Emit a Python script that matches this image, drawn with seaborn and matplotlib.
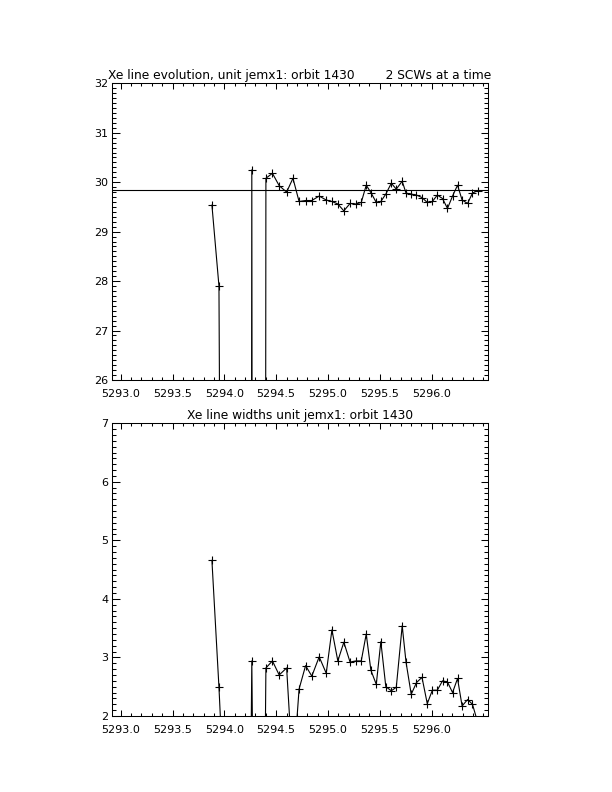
import matplotlib
matplotlib.use("Agg")
import matplotlib.pyplot as plt
from matplotlib.ticker import FixedLocator, MultipleLocator, FormatStrFormatter
import seaborn as sns

# ---------------------------------------------------------------
# data (time in IJD, values per 2 SCWs)
# ---------------------------------------------------------------
times = [5293.880, 5293.948, 5294.015, 5294.250, 5294.265, 5294.281, 5294.387,
         5294.401, 5294.464, 5294.529, 5294.601, 5294.662, 5294.721, 5294.784,
         5294.844, 5294.915, 5294.983, 5295.038, 5295.095, 5295.153, 5295.213,
         5295.269, 5295.321, 5295.369, 5295.414, 5295.466, 5295.510, 5295.558,
         5295.611, 5295.659, 5295.716, 5295.753, 5295.803, 5295.854, 5295.907,
         5295.958, 5296.007, 5296.055, 5296.105, 5296.153, 5296.202, 5296.250,
         5296.294, 5296.347, 5296.394, 5296.443]

line_energy = [29.54, 27.90, 0.0, 0.0, 30.25, 0.0, 0.0, 30.08, 30.18, 29.93,
               29.80, 30.08, 29.61, 29.63, 29.63, 29.72, 29.64, 29.61, 29.56,
               29.42, 29.57, 29.56, 29.59, 29.94, 29.79, 29.59, 29.61, 29.76,
               29.98, 29.86, 30.02, 29.78, 29.76, 29.74, 29.69, 29.59, 29.61,
               29.74, 29.67, 29.47, 29.72, 29.94, 29.64, 29.57, 29.78, 29.83]

line_width = [4.66, 2.49, 0.0, 0.0, 2.94, 0.0, 0.0, 2.82, 2.94, 2.70, 2.82,
              1.0, 2.46, 2.86, 2.68, 3.01, 2.73, 3.47, 2.94, 3.26, 2.92, 2.94,
              2.94, 3.40, 2.78, 2.54, 3.27, 2.50, 2.43, 2.49, 3.54, 2.92, 2.37,
              2.57, 2.66, 2.21, 2.44, 2.44, 2.60, 2.58, 2.40, 2.64, 2.17, 2.28,
              2.20, 1.90]

mean_energy = 29.85

top_title = "Xe line evolution, unit jemx1: orbit 1430        2 SCWs at a time"
bottom_title = "Xe line widths unit jemx1: orbit 1430"
x_ticks = [5293.0, 5293.5, 5294.0, 5294.5, 5295.0, 5295.5, 5296.0]

# ---------------------------------------------------------------
sns.set_style("ticks")
plt.rcParams['font.family'] = ['DejaVu Sans']
plt.rcParams['axes.linewidth'] = 0.75
plt.rcParams['text.color'] = 'black'

fig = plt.figure(figsize=(6.12, 7.92), dpi=100)
ax_top = fig.add_axes([0.1825, 0.5202, 0.6154, 0.3746])
ax_bot = fig.add_axes([0.1825, 0.0960, 0.6154, 0.3696])


def style_axis(ax, ylim, title):
    ax.set_xlim(5292.913, 5296.547)
    ax.set_ylim(*ylim)
    ax.xaxis.set_major_locator(FixedLocator(x_ticks))
    ax.xaxis.set_minor_locator(MultipleLocator(0.1))
    ax.xaxis.set_major_formatter(FormatStrFormatter('%.1f'))
    ax.yaxis.set_major_locator(MultipleLocator(1))
    ax.yaxis.set_minor_locator(MultipleLocator(0.1))
    ax.tick_params(which='both', direction='in', top=True, right=True,
                   colors='black', labelcolor='black', labelsize=8, width=0.75)
    ax.tick_params(axis='x', which='major', length=4.3, pad=6.5)
    ax.tick_params(axis='x', which='minor', length=2.2)
    ax.tick_params(axis='y', which='major', length=5.4, pad=2.5)
    ax.tick_params(axis='y', which='minor', length=2.7)
    for s in ax.spines.values():
        s.set_visible(True)
        s.set_color('black')
    ax.set_xlabel('')
    ax.set_ylabel('')
    ax.set_title(title, fontsize=8.8, pad=3, color='black')


sns.lineplot(x=times, y=line_energy, ax=ax_top, color='black', lw=0.8,
             marker='+', markersize=6, markeredgewidth=0.8, markeredgecolor='black',
             estimator=None, sort=False)
ax_top.axhline(mean_energy, color='black', lw=0.8)
style_axis(ax_top, (26, 32), top_title)

sns.lineplot(x=times, y=line_width, ax=ax_bot, color='black', lw=0.8,
             marker='+', markersize=6, markeredgewidth=0.8, markeredgecolor='black',
             estimator=None, sort=False)
style_axis(ax_bot, (2, 7), bottom_title)

fig.savefig("out.png", dpi=100, facecolor='white')
